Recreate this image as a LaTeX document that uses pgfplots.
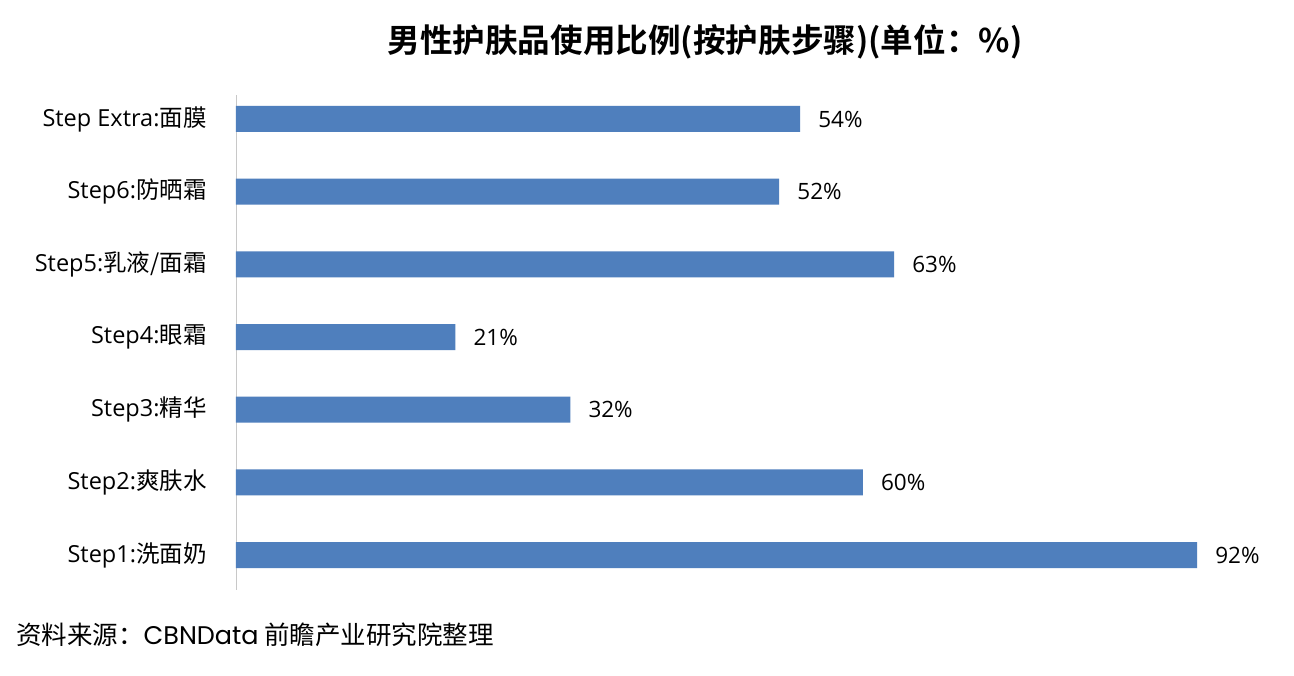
\documentclass[border=0pt]{standalone}
\usepackage{fontspec}
\usepackage{pgfplots}
\pgfplotsset{compat=1.18}
\setmainfont{Noto Sans CJK SC}
\newfontfamily\titlefont{Noto Sans CJK SC Bold}
\newfontfamily\latinfont{Poppins}
\newfontfamily\os{Open Sans}
\definecolor{barblue}{RGB}{79,127,189}
\definecolor{axisgrey}{RGB}{200,200,200}

\pgfplotstableread{
idx val
0 92
1 60
2 32
3 21
4 63
5 52
6 54
}\shares

\begin{document}
\begin{tikzpicture}[x=1pt,y=1pt]
\useasboundingbox[fill=white] (0,0) rectangle (1294,676);
\node[font=\titlefont\fontsize{32.6}{36}\selectfont] at (705,634) {男性护肤品使用比例(按护肤步骤)(单位：\%)};
\node[anchor=west, inner sep=0pt, font=\fontsize{25.5}{29}\selectfont] at (16,41)
  {资料来源：{\latinfont CBNData} 前瞻产业研究院整理};
\begin{axis}[
    at={(236pt,86pt)}, anchor=south west,
    scale only axis,
    width=1044.7pt, height=495pt,
    xmin=0, xmax=100,
    ymin=-0.48, ymax=6.33,
    xbar, bar width=26pt,
    hide x axis,
    axis y line*=left,
    y axis line style={draw=axisgrey, line width=0.8pt, -},
    ytick=data,
    ytick style={draw=none},
    yticklabels={{\os Step1:}洗面奶, {\os Step2:}爽肤水, {\os Step3:}精华, {\os Step4:}眼霜, {\os Step5:}乳液/面霜, {\os Step6:}防晒霜, {\os Step Extra:}面膜},
    yticklabel style={font=\fontsize{23.5}{27}\selectfont, anchor=east, inner sep=0pt, xshift=-25pt},
    /pgf/number format/assume math mode=true,
    point meta=x,
    nodes near coords={\pgfmathprintnumber{\pgfplotspointmeta}\%},
    every node near coord/.append style={font=\os\fontsize{22.5}{26}\selectfont, anchor=west, inner sep=0pt, xshift=18pt, text=black},
    clip=false,
]
\addplot[fill=barblue, draw=none] table[x=val, y=idx] {\shares};
\end{axis}
\end{tikzpicture}
\end{document}
